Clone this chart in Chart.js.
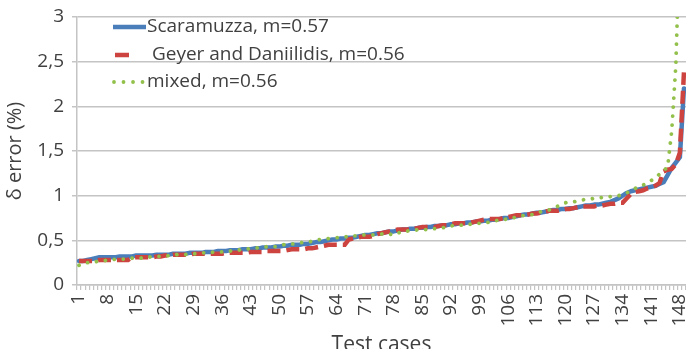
<!DOCTYPE html>
<html><head><meta charset="utf-8">
<script src="https://cdn.jsdelivr.net/npm/chart.js@4/dist/chart.umd.min.js"></script>
<style>html,body{margin:0;padding:0;background:#fff;overflow:hidden}#wrap{width:686px;height:349px;position:relative}</style>
</head><body><div id="wrap"><canvas id="c" width="686" height="349"></canvas></div>
<script>
// Test case numbers 1..149
const categories = Array.from({length: 149}, (_, i) => String(i + 1));
const xTickLabels = ['1','8','15','22','29','36','43','50','57','64','71','78','85','92','99','106','113','120','127','134','141','148'];
const yTickLabels = ['0','0,5','1','1,5','2','2,5','3'];
const seriesNames = ['Scaramuzza, m=0.57', ' Geyer and Daniilidis, m=0.56', 'mixed, m=0.56'];

const scaramuzza = [
0.27,0.27,0.28,0.29,0.30,0.31,0.31,0.31,0.31,0.31,
0.32,0.32,0.32,0.32,0.33,0.33,0.33,0.33,0.33,0.34,
0.34,0.34,0.34,0.35,0.35,0.35,0.35,0.36,0.36,0.36,
0.36,0.37,0.37,0.37,0.38,0.38,0.38,0.39,0.39,0.39,
0.40,0.40,0.40,0.41,0.41,0.42,0.42,0.42,0.43,0.43,
0.44,0.44,0.45,0.45,0.45,0.46,0.46,0.47,0.48,0.48,
0.49,0.50,0.51,0.51,0.52,0.52,0.53,0.53,0.54,0.55,
0.56,0.56,0.57,0.58,0.58,0.59,0.60,0.60,0.61,0.62,
0.62,0.63,0.63,0.64,0.64,0.65,0.65,0.66,0.66,0.67,
0.67,0.68,0.68,0.69,0.69,0.70,0.70,0.71,0.71,0.72,
0.72,0.73,0.73,0.74,0.75,0.75,0.76,0.77,0.78,0.79,
0.79,0.80,0.81,0.81,0.82,0.83,0.84,0.84,0.85,0.85,
0.86,0.86,0.87,0.88,0.89,0.89,0.90,0.90,0.91,0.92,
0.93,0.95,0.97,1.00,1.03,1.05,1.06,1.07,1.08,1.09,
1.10,1.11,1.13,1.15,1.23,1.31,1.37,1.43,2.20];

const geyer = [
0.27,0.27,0.27,0.27,0.27,0.28,0.28,0.28,0.28,0.28,
0.28,0.28,0.28,0.31,0.31,0.31,0.31,0.31,0.31,0.32,
0.32,0.33,0.33,0.34,0.34,0.34,0.34,0.34,0.35,0.35,
0.35,0.35,0.35,0.35,0.35,0.35,0.36,0.36,0.36,0.36,
0.36,0.36,0.37,0.37,0.37,0.37,0.38,0.38,0.38,0.38,
0.38,0.39,0.40,0.40,0.40,0.40,0.41,0.41,0.42,0.43,
0.44,0.45,0.45,0.45,0.45,0.45,0.51,0.52,0.53,0.54,
0.54,0.54,0.55,0.57,0.58,0.59,0.60,0.61,0.62,0.62,
0.62,0.62,0.63,0.64,0.65,0.65,0.65,0.65,0.66,0.67,
0.67,0.68,0.69,0.69,0.69,0.69,0.70,0.71,0.72,0.73,
0.74,0.74,0.74,0.74,0.75,0.76,0.77,0.78,0.78,0.78,
0.79,0.80,0.80,0.81,0.82,0.83,0.83,0.83,0.84,0.85,
0.85,0.86,0.87,0.88,0.88,0.88,0.88,0.89,0.89,0.90,
0.91,0.91,0.92,0.92,0.97,1.02,1.04,1.05,1.06,1.08,
1.09,1.11,1.14,1.27,1.29,1.30,1.35,1.48,2.38];

const mixed = [
0.22,0.24,0.25,0.25,0.26,0.27,0.27,0.28,0.28,0.29,
0.29,0.29,0.29,0.30,0.30,0.30,0.31,0.31,0.32,0.32,
0.32,0.32,0.33,0.33,0.34,0.34,0.34,0.35,0.35,0.35,
0.36,0.36,0.36,0.37,0.37,0.37,0.38,0.38,0.39,0.39,
0.40,0.40,0.41,0.41,0.42,0.42,0.43,0.43,0.43,0.44,
0.45,0.46,0.46,0.46,0.47,0.48,0.48,0.49,0.50,0.51,
0.51,0.52,0.52,0.53,0.53,0.54,0.54,0.55,0.55,0.56,
0.56,0.56,0.56,0.56,0.57,0.58,0.57,0.56,0.58,0.60,
0.60,0.61,0.61,0.62,0.62,0.62,0.63,0.63,0.64,0.64,
0.65,0.66,0.67,0.67,0.67,0.68,0.68,0.69,0.69,0.70,
0.70,0.71,0.72,0.73,0.73,0.75,0.75,0.76,0.77,0.78,
0.78,0.79,0.81,0.82,0.83,0.84,0.86,0.88,0.90,0.92,
0.93,0.93,0.94,0.95,0.96,0.96,0.97,0.97,0.98,0.98,
0.99,0.99,1.00,1.02,1.03,1.06,1.08,1.10,1.12,1.14,
1.17,1.20,1.24,1.28,1.32,1.72,2.45,3.95,5.20];

const FONT = "'Open Sans', 'DejaVu Sans', sans-serif";
const TEXT = '#404040';
const GRID = '#c4c4c4';

const insideLegend = {
  id: 'insideLegend',
  afterDatasetsDraw(chart) {
    const ctx = chart.ctx;
    const ds = chart.data.datasets;
    const rowsY = [27, 55, 82];
    ctx.save();
    ctx.lineCap = 'butt';
    ctx.strokeStyle = ds[0].borderColor; ctx.lineWidth = 4.5; ctx.setLineDash([]);
    ctx.beginPath(); ctx.moveTo(113, rowsY[0]); ctx.lineTo(146, rowsY[0]); ctx.stroke();
    ctx.strokeStyle = ds[1].borderColor;
    ctx.beginPath(); ctx.moveTo(115, rowsY[1]); ctx.lineTo(129, rowsY[1]); ctx.stroke();
    ctx.strokeStyle = ds[2].borderColor; ctx.lineWidth = 3.8; ctx.lineCap = 'round';
    ctx.setLineDash([0.01, 9.5]);
    ctx.beginPath(); ctx.moveTo(114, rowsY[2]); ctx.lineTo(145, rowsY[2]); ctx.stroke();
    ctx.setLineDash([]);
    ctx.fillStyle = TEXT;
    ctx.font = "19px " + FONT;
    ctx.textBaseline = 'middle';
    ctx.textAlign = 'left';
    ds.forEach((d, i) => ctx.fillText(d.label, 147, rowsY[i]));
    ctx.restore();
  }
};

new Chart(document.getElementById('c'), {
  type: 'line',
  data: {
    labels: categories,
    datasets: [
      { label: seriesNames[0], data: scaramuzza, borderColor: '#4a7ebb', borderWidth: 4.5, pointRadius: 0, tension: 0, order: 3, borderCapStyle: 'round', borderJoinStyle: 'round' },
      { label: seriesNames[1], data: geyer, borderColor: '#cc4340', borderWidth: 4.5, pointRadius: 0, tension: 0, order: 2, borderDash: [13, 6] },
      { label: seriesNames[2], data: mixed, borderColor: '#92c04a', borderWidth: 3.8, pointRadius: 0, tension: 0, order: 1, borderDash: [0.01, 9], borderCapStyle: 'round' }
    ]
  },
  options: {
    responsive: false,
    animation: false,
    devicePixelRatio: 1,
    layout: { padding: { top: 17, right: 0, bottom: 0, left: 0 } },
    plugins: { legend: { display: false }, tooltip: { enabled: false } },
    scales: {
      x: {
        type: 'category',
        offset: true,
        grid: { display: true, drawOnChartArea: false, offset: true, tickLength: 5, color: GRID, lineWidth: 1.2 },
        border: { display: true, color: GRID, width: 1.5 },
        ticks: {
          autoSkip: false, maxRotation: 90, minRotation: 90, padding: 4,
          color: TEXT, font: { family: FONT, size: 19 },
          callback: function(v, i) { const l = categories[i]; return xTickLabels.includes(l) ? l : ''; }
        },
        title: { display: true, text: 'Test cases', color: TEXT, font: { family: FONT, size: 21 }, padding: { top: 0, bottom: -9 } },
        afterFit: s => { s.height = 64; s.paddingLeft = 0; s.paddingRight = 0; }
      },
      y: {
        min: 0, max: 3,
        grid: { color: GRID, lineWidth: 1.5, tickLength: 5 },
        border: { display: true, color: GRID, width: 1.5 },
        ticks: {
          stepSize: 0.5, padding: 8, color: TEXT, font: { family: FONT, size: 19 },
          callback: function(v, i) { return yTickLabels[i]; }
        },
        title: { display: true, text: 'δ error (%)', color: TEXT, font: { family: FONT, size: 20 }, padding: { top: 3, bottom: 0 } },
        afterFit: s => { s.width = 77; s.paddingTop = 0; s.paddingBottom = 0; }
      }
    }
  },
  plugins: [insideLegend]
});
</script>
</body></html>
